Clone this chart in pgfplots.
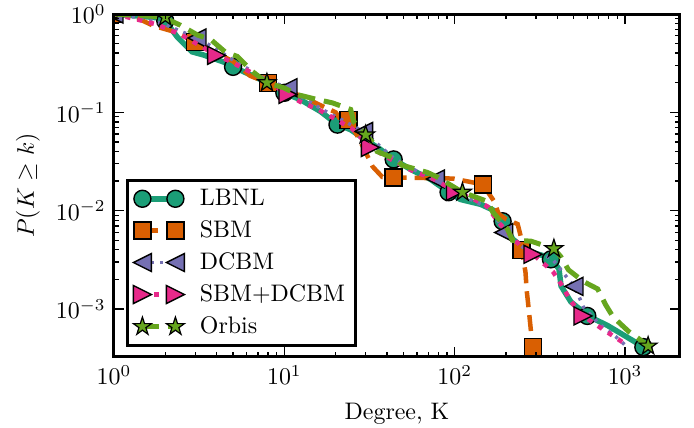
\RequirePackage{fix-cm}
\documentclass[border=0pt]{standalone}
\usepackage{pgfplots}
\pgfplotsset{compat=1.18}
\usetikzlibrary{plotmarks}

% one reference pixel
\newdimen\px
\px=0.41667bp

\definecolor{lbnl}{RGB}{27,158,119}
\definecolor{sbm}{RGB}{217,95,2}
\definecolor{dcbm}{RGB}{117,112,179}
\definecolor{sbmdc}{RGB}{231,41,138}
\definecolor{orbis}{RGB}{102,166,30}

% matplotlib-like marks
\pgfdeclareplotmark{ltri}{%
  \pgfpathmoveto{\pgfqpoint{-\pgfplotmarksize}{0pt}}%
  \pgfpathlineto{\pgfqpoint{\pgfplotmarksize}{\pgfplotmarksize}}%
  \pgfpathlineto{\pgfqpoint{\pgfplotmarksize}{-\pgfplotmarksize}}%
  \pgfpathclose\pgfusepathqfillstroke}
\pgfdeclareplotmark{rtri}{%
  \pgfpathmoveto{\pgfqpoint{\pgfplotmarksize}{0pt}}%
  \pgfpathlineto{\pgfqpoint{-\pgfplotmarksize}{\pgfplotmarksize}}%
  \pgfpathlineto{\pgfqpoint{-\pgfplotmarksize}{-\pgfplotmarksize}}%
  \pgfpathclose\pgfusepathqfillstroke}
\pgfdeclareplotmark{fstar}{%
  \pgfpathmoveto{\pgfpointpolar{90}{\pgfplotmarksize}}%
  \pgfpathlineto{\pgfpointpolar{126}{0.382\pgfplotmarksize}}%
  \pgfpathlineto{\pgfpointpolar{162}{\pgfplotmarksize}}%
  \pgfpathlineto{\pgfpointpolar{198}{0.382\pgfplotmarksize}}%
  \pgfpathlineto{\pgfpointpolar{234}{\pgfplotmarksize}}%
  \pgfpathlineto{\pgfpointpolar{270}{0.382\pgfplotmarksize}}%
  \pgfpathlineto{\pgfpointpolar{306}{\pgfplotmarksize}}%
  \pgfpathlineto{\pgfpointpolar{342}{0.382\pgfplotmarksize}}%
  \pgfpathlineto{\pgfpointpolar{18}{\pgfplotmarksize}}%
  \pgfpathlineto{\pgfpointpolar{54}{0.382\pgfplotmarksize}}%
  \pgfpathclose\pgfusepathqfillstroke}

\tikzset{
  lbnlL/.style={color=lbnl, line width=5.5\px, solid},
  lbnlM/.style={mark=*, mark size=8.5\px, mark options={solid, fill=lbnl, draw=black, line width=1.4\px}},
  sbmL/.style={color=sbm, line width=4.5\px, dash pattern=on 16\px off 8\px},
  sbmM/.style={mark=square*, mark size=8.5\px, mark options={solid, fill=sbm, draw=black, line width=1.4\px}},
  dcbmL/.style={color=dcbm, line width=3.5\px, dash pattern=on 3\px off 6\px},
  dcbmM/.style={mark=ltri, mark size=9\px, mark options={solid, fill=dcbm, draw=black, line width=1.4\px}},
  sdL/.style={color=sbmdc, line width=4.5\px, dash pattern=on 5\px off 7\px},
  sdM/.style={mark=rtri, mark size=9\px, mark options={solid, fill=sbmdc, draw=black, line width=1.4\px}},
  orbL/.style={color=orbis, line width=5\px, dash pattern=on 17\px off 9\px},
  orbM/.style={mark=fstar, mark size=9.5\px, mark options={solid, fill=orbis, draw=black, line width=1.2\px}},
}
\pgfplotsset{twomark/.style={legend image code/.code={%
  \draw[##1] plot coordinates {(0\px,0\px) (33\px,0\px)};
  \path (50\px,0\px);}}}

\begin{document}
\begin{tikzpicture}
\begin{axis}[
  name=ax,
  xmode=log, ymode=log,
  scale only axis,
  width=566\px, height=343\px,
  xmin=1, xmax=2100, ymin=3.25e-4, ymax=1,
  xtick={1,10,100,1000},
  ytick={0.001,0.01,0.1,1},
  tick align=inside,
  tick pos=both,
  major tick length=10\px, minor tick length=5\px,
  every tick/.style={black, line width=1.3\px},
  axis line style={line width=3\px},
  axis on top,
  clip marker paths=true,
  xlabel={Degree, K},
  ylabel={$P(K \geq k)$},
  every axis x label/.style={at={(axis description cs:0.5,-0.1837)}, anchor=base},
  every axis y label/.style={at={(axis description cs:-0.152,0.5)}, rotate=90, anchor=center},
  legend style={at={(0.021,0.029)}, anchor=south west, draw=black,
    line width=3\px, row sep=2\px,
    inner xsep=6\px, inner ysep=4\px},
  legend cell align=left,
]
% LBNL
\addplot[lbnlL, forget plot] coordinates {
 (1,1) (1.42,0.95) (1.86,0.91) (2,0.85) (2.35,0.585) (2.88,0.412) (3.34,0.384)
 (4.38,0.326) (5.01,0.29) (6.31,0.241) (7.73,0.205) (9.87,0.158) (12.4,0.135)
 (16.3,0.102) (20.5,0.075) (24.4,0.0668) (29.9,0.0529) (36.7,0.0419) (43.8,0.0332)
 (55.1,0.0263) (72.2,0.0208) (92.2,0.0154) (108,0.013) (142,0.0116) (174,0.00986)
 (192,0.00781) (219,0.00513) (269,0.00388) (367,0.0033) (409,0.00255) (421,0.00171)
 (481,0.00118) (606,0.00085) (794,0.000675) (1276,0.000413)};
\addplot[lbnlM, only marks, forget plot] coordinates {
 (1,1) (2,0.85) (5,0.29) (10,0.158) (20.5,0.075) (43.8,0.0332) (92,0.0154)
 (191,0.0078) (367,0.0032) (600,0.00085) (1280,0.00041)};
% SBM
\addplot[sbmL, forget plot] coordinates {
 (1,1) (1.3,0.95) (1.7,0.76) (2.4,0.64) (3,0.52) (4,0.4) (5,0.33) (6.3,0.235)
 (8,0.2) (10,0.17) (13.3,0.141) (15.2,0.125) (20,0.1) (21,0.088) (23.8,0.084)
 (28,0.05) (33,0.028) (37.6,0.022) (43.8,0.0218) (98,0.0212) (146,0.0185)
 (170,0.0125) (181,0.0093) (200,0.0082) (234,0.0073) (246,0.0052) (248,0.0040)
 (254,0.003) (260,0.0024) (265,0.0015) (271,0.00105) (278,0.00068) (282,0.00053)
 (288,0.00041)};
\addplot[sbmM, only marks, forget plot] coordinates {
 (1,1) (3,0.52) (8,0.2) (23.8,0.084) (43.8,0.0218) (146,0.0185) (246,0.0040)
 (288,0.00041)};
% DCBM
\addplot[dcbmL, forget plot] coordinates {
 (1,1) (1.5,0.9) (2,0.78) (2.5,0.66) (3.07,0.57) (4,0.44) (5,0.34) (6.5,0.26)
 (8,0.21) (10.5,0.178) (13,0.14) (17,0.105) (22,0.083) (29,0.064) (35,0.048)
 (44,0.034) (55,0.027) (77,0.021) (100,0.016) (130,0.0125) (160,0.0105)
 (194,0.0065) (220,0.005) (270,0.0039) (370,0.0033) (420,0.0025) (501,0.0017)
 (540,0.0013) (570,0.00104) (700,0.00071) (885,0.00052) (1000,0.00043)};
\addplot[dcbmM, only marks, forget plot] coordinates {
 (1,1) (3.07,0.57) (10.5,0.178) (29.2,0.064) (77,0.021) (194,0.006) (501,0.0017)};
% SBM+DCBM
\addplot[sdL, forget plot] coordinates {
 (1,1) (1.4,0.87) (1.8,0.78) (2.5,0.61) (4,0.38) (4.8,0.33) (6.5,0.25) (8,0.205)
 (10.5,0.152) (12.4,0.128) (15.8,0.107) (20,0.085) (25,0.068) (32,0.044)
 (40,0.035) (55,0.026) (75,0.021) (101,0.0157) (130,0.013) (156,0.011)
 (178,0.0078) (200,0.0063) (240,0.0045) (288,0.0036) (377,0.0024) (420,0.0018)
 (480,0.0012) (566,0.00085) (776,0.00059) (985,0.00045)};
\addplot[sdM, only marks, forget plot] coordinates {
 (1,1) (4,0.38) (10.5,0.152) (32,0.044) (101,0.0157) (288,0.0036) (566,0.00085)};
% Orbis
\addplot[orbL, forget plot] coordinates {
 (1,1) (2,0.93) (2.1,0.87) (2.45,0.77) (3.1,0.61) (3.7,0.55) (4.5,0.41) (5.3,0.37)
 (6.5,0.26) (7.9,0.2) (9.9,0.178) (12,0.151) (15.6,0.135) (19.1,0.125)
 (24.5,0.107) (25.5,0.081) (30,0.059) (34,0.047) (35,0.04) (46,0.033) (49,0.029)
 (69,0.0245) (79,0.022) (111,0.0154) (156,0.0124) (167,0.0097) (204,0.0065)
 (218,0.005) (280,0.0049) (350,0.0043) (382,0.0041) (420,0.0034) (465,0.0025)
 (570,0.0019) (690,0.0016) (770,0.0011) (850,0.00083) (1050,0.00059)
 (1200,0.0005) (1365,0.00042)};
\addplot[orbM, only marks, forget plot] coordinates {
 (2,0.93) (7.9,0.2) (30,0.059) (111,0.0154) (382,0.0041) (1365,0.00042)};

\addlegendimage{lbnlL, lbnlM, twomark}
\addlegendentry{LBNL}
\addlegendimage{sbmL, sbmM, twomark}
\addlegendentry{SBM}
\addlegendimage{dcbmL, dcbmM, twomark}
\addlegendentry{DCBM}
\addlegendimage{sdL, sdM, twomark}
\addlegendentry{SBM+DCBM}
\addlegendimage{orbL, orbM, twomark}
\addlegendentry{Orbis}
\end{axis}
\pgfresetboundingbox
\path[use as bounding box] ([shift={(-114\px,-71\px)}]ax.south west) rectangle ([shift={(14\px,14\px)}]ax.north east);
\end{tikzpicture}
\end{document}
